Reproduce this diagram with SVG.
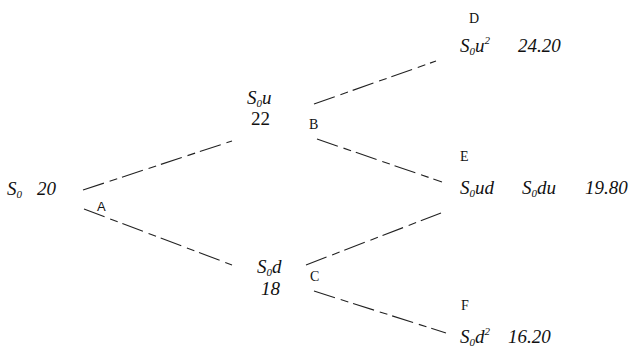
<svg xmlns="http://www.w3.org/2000/svg" width="634" height="348" viewBox="0 0 634 348">
<style>
.v{font-family:"Liberation Serif",serif;font-style:italic;font-size:19px;fill:#111}
.n{font-family:"Liberation Serif",serif;font-size:19px;fill:#111}
.l{font-family:"Liberation Serif",serif;font-size:14px;fill:#111}
.la{font-family:"Liberation Sans",sans-serif;font-size:13px;fill:#111}
.s{font-size:11px}
.c line{stroke:#222;stroke-width:1.1;stroke-dasharray:22 6 8 5}
</style>
<rect width="634" height="348" fill="#fff"/>
<g class="c" id="connectors">
<line x1="83" y1="190" x2="232" y2="141"/>
<line x1="84" y1="209" x2="232" y2="265"/>
<line x1="314" y1="104" x2="436" y2="61"/>
<line x1="317" y1="139" x2="442" y2="182"/>
<line x1="306" y1="265" x2="441" y2="213"/>
<line x1="314" y1="291" x2="446" y2="333"/>
</g>
<g id="nodeA">
<text class="v" x="7" y="195">S<tspan class="s" dy="3">0</tspan><tspan dy="-3" dx="15">20</tspan></text>
<text class="la" x="97" y="211">A</text>
</g>
<g id="nodeB">
<text class="v" x="247" y="104">S<tspan class="s" dy="3">0</tspan><tspan dy="-3">u</tspan></text>
<text class="n" x="251" y="125">22</text>
<text class="l" x="309" y="129">B</text>
</g>
<g id="nodeC">
<text class="v" x="257" y="273">S<tspan class="s" dy="3">0</tspan><tspan dy="-3">d</tspan></text>
<text class="v" x="261" y="295">18</text>
<text class="l" x="310" y="281">C</text>
</g>
<g id="nodeD">
<text class="l" x="469" y="23">D</text>
<text class="v" x="460" y="52">S<tspan class="s" dy="3">0</tspan><tspan dy="-3">u</tspan><tspan class="s" dy="-8">2</tspan></text>
<text class="v" x="518" y="52">24.20</text>
</g>
<g id="nodeE">
<text class="l" x="460" y="161">E</text>
<text class="v" x="460" y="194">S<tspan class="s" dy="3">0</tspan><tspan dy="-3">ud</tspan></text>
<text class="v" x="522" y="194">S<tspan class="s" dy="3">0</tspan><tspan dy="-3">du</tspan></text>
<text class="v" x="585" y="194">19.80</text>
</g>
<g id="nodeF">
<text class="l" x="461" y="310">F</text>
<text class="v" x="460" y="343">S<tspan class="s" dy="3">0</tspan><tspan dy="-3">d</tspan><tspan class="s" dy="-8">2</tspan></text>
<text class="v" x="508" y="343">16.20</text>
</g>
</svg>
